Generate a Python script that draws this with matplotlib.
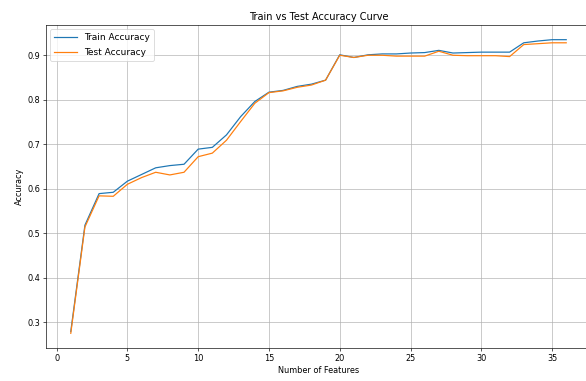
import matplotlib
matplotlib.use('Agg')
import matplotlib.pyplot as plt

# number of features used
n_features = list(range(1, 37))

# accuracy values
train_acc = [0.279, 0.518, 0.589, 0.592, 0.617, 0.632, 0.647, 0.652, 0.655, 0.689,
             0.693, 0.721, 0.762, 0.796, 0.817, 0.821, 0.830, 0.835, 0.844, 0.901,
             0.895, 0.901, 0.903, 0.903, 0.905, 0.906, 0.911, 0.905, 0.906, 0.907,
             0.907, 0.907, 0.928, 0.932, 0.935, 0.935]
test_acc = [0.275, 0.514, 0.584, 0.583, 0.610, 0.625, 0.637, 0.631, 0.637, 0.672,
            0.680, 0.709, 0.751, 0.792, 0.816, 0.820, 0.828, 0.833, 0.844, 0.900,
            0.895, 0.900, 0.900, 0.898, 0.898, 0.898, 0.909, 0.900, 0.899, 0.899,
            0.899, 0.897, 0.924, 0.926, 0.928, 0.928]

# original was a 10 x 6.5 figure, shrunk down
fig = plt.figure(figsize=(10, 381 / 58.6), dpi=58.6)
ax = fig.add_axes([46 / 586, 33 / 381, 545 / 586, 323 / 381])

ax.plot(n_features, train_acc, label='Train Accuracy')
ax.plot(n_features, test_acc, label='Test Accuracy')
ax.set_xlabel('Number of Features')
ax.set_ylabel('Accuracy')
ax.set_title('Train vs Test Accuracy Curve')
ax.legend(loc='upper left', fontsize=11, handlelength=2.6, labelspacing=0.7)
ax.grid(True)

fig.savefig('out.png', dpi=58.6)
